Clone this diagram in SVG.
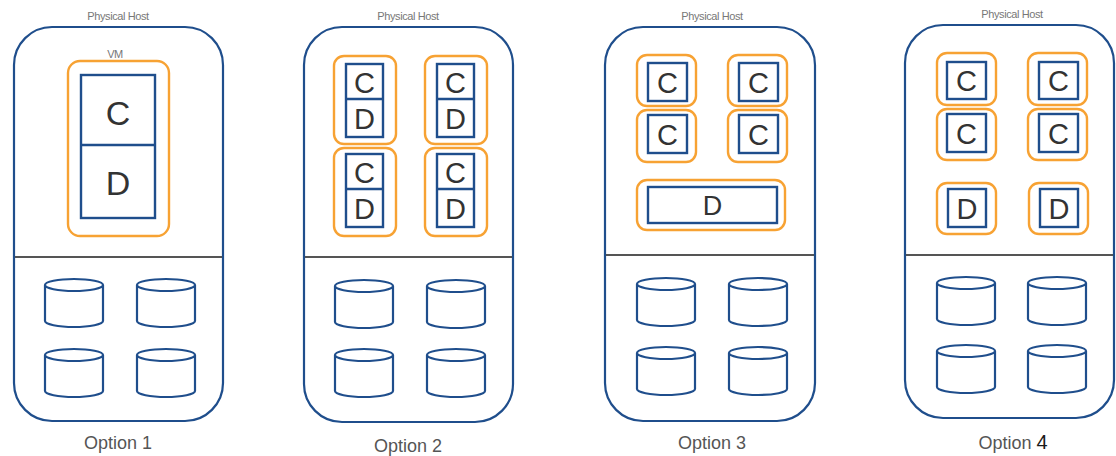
<svg xmlns="http://www.w3.org/2000/svg" width="1116" height="456" viewBox="0 0 1116 456">
<style>
.host{fill:#fff;stroke:#1f4e8c;stroke-width:2.2}
.div{stroke:#555;stroke-width:2.2}
.vm{fill:#fff;stroke:#f7a233;stroke-width:2.4}
.box{fill:#fff;stroke:#1f4e8c;stroke-width:2.4}
.cyl{fill:#fff;stroke:#1f4e8c;stroke-width:2.2}
.ph{font-family:"Liberation Sans",Arial,sans-serif;font-size:11px;fill:#777;text-anchor:middle;letter-spacing:-0.4px}
.lt{font-family:"Liberation Sans",Arial,sans-serif;fill:#333;text-anchor:middle}
.opt{font-family:"Liberation Sans",Arial,sans-serif;font-size:18px;fill:#555;text-anchor:middle}
</style>
<defs>
<g id="cyl">
<path class="cyl" d="M0,6 V42 A29,6 0 0 0 58,42 V6"/>
<ellipse class="cyl" cx="29" cy="6" rx="29" ry="6"/>
</g>
</defs>

<g id="host1">
<rect class="host" x="14" y="27" width="209" height="394" rx="38"/>
<line class="div" x1="15" y1="257" x2="222" y2="257"/>
<text class="ph" x="118" y="20">Physical Host</text>
<text class="ph" x="115" y="58">VM</text>
<rect class="vm" x="68" y="61" width="101" height="175" rx="12"/>
<rect class="box" x="81" y="75" width="74" height="143"/>
<line class="box" x1="81" y1="145" x2="155" y2="145"/>
<text class="lt" x="118" y="125" font-size="34">C</text>
<text class="lt" x="118" y="195" font-size="34">D</text>
<use href="#cyl" x="45" y="279"/>
<use href="#cyl" x="137" y="279"/>
<use href="#cyl" x="45" y="349"/>
<use href="#cyl" x="137" y="349"/>
<text class="opt" x="118" y="449">Option 1</text>
</g>

<g id="host2">
<rect class="host" x="304" y="27" width="209" height="395" rx="38"/>
<line class="div" x1="305" y1="257" x2="512" y2="257"/>
<text class="ph" x="408" y="20">Physical Host</text>
<rect class="vm" x="334" y="56" width="62" height="88" rx="10"/>
<rect class="box" x="346" y="64" width="37" height="73"/>
<line class="box" x1="346" y1="99" x2="383" y2="99"/>
<text class="lt" x="364.5" y="93" font-size="29">C</text>
<text class="lt" x="364.5" y="129" font-size="29">D</text>
<rect class="vm" x="425" y="56" width="62" height="88" rx="10"/>
<rect class="box" x="437" y="64" width="37" height="73"/>
<line class="box" x1="437" y1="99" x2="474" y2="99"/>
<text class="lt" x="455.5" y="93" font-size="29">C</text>
<text class="lt" x="455.5" y="129" font-size="29">D</text>
<rect class="vm" x="334" y="148" width="62" height="88" rx="10"/>
<rect class="box" x="346" y="154" width="37" height="73"/>
<line class="box" x1="346" y1="189" x2="383" y2="189"/>
<text class="lt" x="364.5" y="183" font-size="29">C</text>
<text class="lt" x="364.5" y="219" font-size="29">D</text>
<rect class="vm" x="425" y="148" width="62" height="88" rx="10"/>
<rect class="box" x="437" y="154" width="37" height="73"/>
<line class="box" x1="437" y1="189" x2="474" y2="189"/>
<text class="lt" x="455.5" y="183" font-size="29">C</text>
<text class="lt" x="455.5" y="219" font-size="29">D</text>
<use href="#cyl" x="335" y="280"/>
<use href="#cyl" x="427" y="280"/>
<use href="#cyl" x="335" y="349"/>
<use href="#cyl" x="427" y="349"/>
<text class="opt" x="408" y="452">Option 2</text>
</g>

<g id="host3">
<rect class="host" x="605" y="27" width="210" height="394" rx="38"/>
<line class="div" x1="606" y1="255" x2="814" y2="255"/>
<text class="ph" x="712" y="20">Physical Host</text>
<rect class="vm" x="637" y="55" width="59" height="51" rx="10"/>
<rect class="box" x="648" y="63" width="39" height="38"/>
<text class="lt" x="667.5" y="93" font-size="29">C</text>
<rect class="vm" x="728" y="55" width="59" height="51" rx="10"/>
<rect class="box" x="739" y="63" width="39" height="38"/>
<text class="lt" x="758.5" y="93" font-size="29">C</text>
<rect class="vm" x="637" y="110" width="59" height="52" rx="10"/>
<rect class="box" x="648" y="115" width="39" height="38"/>
<text class="lt" x="667.5" y="145" font-size="29">C</text>
<rect class="vm" x="728" y="110" width="59" height="52" rx="10"/>
<rect class="box" x="739" y="115" width="39" height="38"/>
<text class="lt" x="758.5" y="145" font-size="29">C</text>
<rect class="vm" x="637" y="180" width="148" height="50" rx="10"/>
<rect class="box" x="648" y="187" width="129" height="36"/>
<text class="lt" x="712.5" y="215" font-size="27">D</text>
<use href="#cyl" x="637" y="278"/>
<use href="#cyl" x="729" y="278"/>
<use href="#cyl" x="637" y="347"/>
<use href="#cyl" x="729" y="347"/>
<text class="opt" x="712" y="449">Option 3</text>
</g>

<g id="host4">
<rect class="host" x="905" y="25" width="209" height="393" rx="38"/>
<line class="div" x1="906" y1="255" x2="1113" y2="255"/>
<text class="ph" x="1012" y="18">Physical Host</text>
<rect class="vm" x="937" y="53" width="59" height="52" rx="10"/>
<rect class="box" x="947" y="62" width="39" height="37"/>
<text class="lt" x="966.5" y="91" font-size="29">C</text>
<rect class="vm" x="1028" y="53" width="59" height="52" rx="10"/>
<rect class="box" x="1039" y="62" width="39" height="37"/>
<text class="lt" x="1058.5" y="91" font-size="29">C</text>
<rect class="vm" x="937" y="109" width="59" height="51" rx="10"/>
<rect class="box" x="947" y="114" width="39" height="38"/>
<text class="lt" x="966.5" y="144" font-size="29">C</text>
<rect class="vm" x="1028" y="109" width="59" height="51" rx="10"/>
<rect class="box" x="1039" y="114" width="39" height="38"/>
<text class="lt" x="1058.5" y="144" font-size="29">C</text>
<rect class="vm" x="937" y="183" width="59" height="51" rx="10"/>
<rect class="box" x="948" y="189" width="38" height="38"/>
<text class="lt" x="967" y="219" font-size="29">D</text>
<rect class="vm" x="1029" y="183" width="59" height="51" rx="10"/>
<rect class="box" x="1040" y="189" width="38" height="38"/>
<text class="lt" x="1059" y="219" font-size="29">D</text>
<use href="#cyl" x="937" y="277"/>
<use href="#cyl" x="1028" y="277"/>
<use href="#cyl" x="937" y="345"/>
<use href="#cyl" x="1028" y="345"/>
<text class="opt" x="1013" y="449">Option <tspan fill="#1a1a1a" font-size="20">4</tspan></text>
</g>
</svg>
